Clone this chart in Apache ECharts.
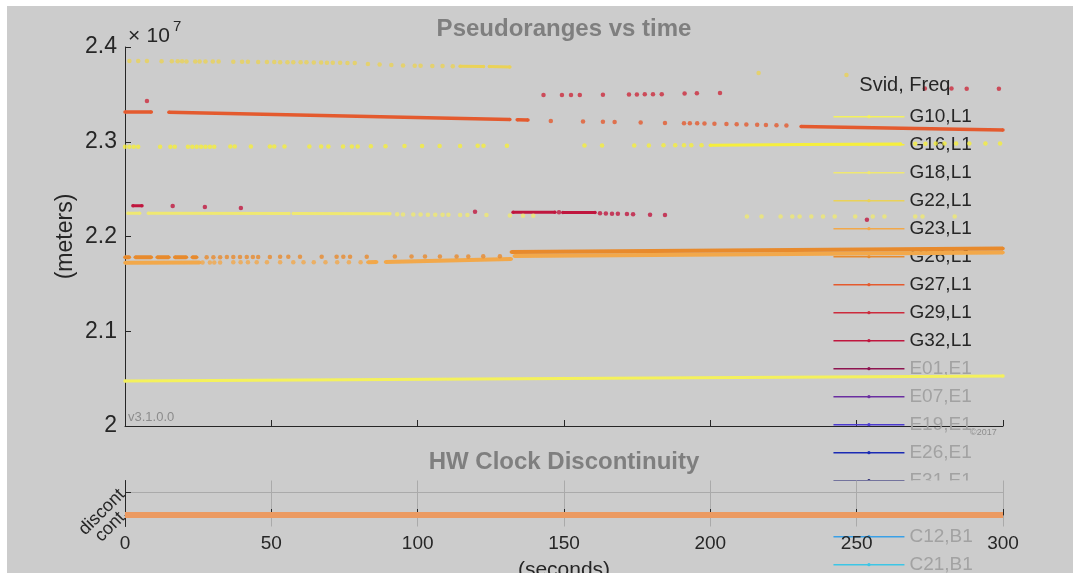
<!DOCTYPE html>
<html><head><meta charset="utf-8">
<script src="https://cdn.jsdelivr.net/npm/echarts@6/dist/echarts.min.js"></script>
<style>
html,body{margin:0;padding:0;background:#fff;width:1073px;height:575px;overflow:hidden}
#c{position:absolute;left:7px;top:6px;width:1066px;height:567px;}
</style></head>
<body><div id="c"></div>
<script>
// ---------------- data (time in seconds, pseudorange in meters) ----------------
const xTicks = [0, 50, 100, 150, 200, 250, 300];
const yTicksE7 = [2, 2.1, 2.2, 2.3, 2.4];
const legendNames = ['G10,L1','G16,L1','G18,L1','G22,L1','G23,L1','G26,L1','G27,L1','G29,L1','G32,L1',
                     'E01,E1','E07,E1','E19,E1','E26,E1','E31,E1','E33,E1','C12,B1','C21,B1'];
const inactiveNames = ['E01,E1','E07,E1','E19,E1','E26,E1','E31,E1','E33,E1','C12,B1','C21,B1'];

const g10LineT = [0, 150, 300];
const g10LineR = [20475000, 20501000, 20528000];

const g16LineT = [200, 232, 265];
const g16LineR = [22963000, 22970000, 22977000];
const g16DotT = [0, 1.5, 3, 4.5, 12, 15.5, 17, 21.5, 23, 24.5, 26, 27.5, 29, 30.5,
                 36, 37.5, 43, 49.5, 51, 54.5, 63, 67, 69.5, 74.5, 77.5, 79.5,
                 84, 89, 95.5, 101.5, 107.5, 114.5, 120.5, 122.5, 130.5,
                 157, 163, 174, 179, 184, 188, 191, 193.5, 197,
                 270, 273.5, 277, 280, 284, 288.5, 294, 299];
const g16DotR = [22948000, 22948000, 22948000, 22948000, 22948000, 22948000, 22948000, 22948000, 22948000, 22948000, 22948000, 22948000, 22948000, 22948000,
                 22950000, 22950000, 22950000, 22950000, 22950000, 22950000, 22950000, 22951000, 22951000, 22951000, 22951000, 22951000,
                 22952000, 22953000, 22955000, 22955000, 22956000, 22956000, 22957000, 22957000, 22957000,
                 22960000, 22960000, 22961000, 22961000, 22962000, 22962000, 22962000, 22962000, 22963000,
                 22980000, 22980000, 22981000, 22981000, 22981000, 22982000, 22982000, 22982000];

const g18LineT = [1, 5, null, 8, 56, null, 57.5, 90.5];
const g18LineR = [22246000, 22246000, null, 22245000, 22243000, null, 22243000, 22241000];
const g18DotT = [93, 95, 98.5, 101, 103.5, 106, 108.5, 110.5, 114.5, 117, 123.5, 131.5, 136, 139.5,
                 212.5, 217.5, 224, 228, 230.5, 234.5, 238.5, 242.5, 249.5, 255.5, 259.5, 270, 272.5, 283.5];
const g18DotR = [22234000, 22233000, 22232000, 22231000, 22230000, 22230000, 22229000, 22229000, 22228000, 22228000, 22227000, 22221000, 22220000, 22219000,
                 22211000, 22211000, 22211000, 22211000, 22211000, 22211000, 22211000, 22211000, 22210000, 22210000, 22210000, 22210000, 22210000, 22210000];

const g22LineT = [114.5, 122.5, null, 124.5, 131.5];
const g22LineR = [23797000, 23794000, null, 23793000, 23790000];
const g22DotT = [1.5, 4.5, 7.5, 12.5, 16, 18, 19.5, 21, 24, 25.5, 27.5, 30, 32, 37, 40, 42, 45.5, 48.5,
                 51, 53, 55.5, 57.5, 60, 62, 64.5, 67, 69, 71, 73.5, 76, 78.5,
                 83, 87, 91, 95, 99, 101, 105, 108.5, 112,
                 216.5, 246.5];
const g22DotR = [23852000, 23851000, 23851000, 23850000, 23849000, 23849000, 23849000, 23848000, 23847000, 23847000, 23847000, 23846000, 23846000, 23845000, 23844000, 23844000, 23843000, 23842000,
                 23841000, 23840000, 23840000, 23839000, 23838000, 23838000, 23837000, 23836000, 23835000, 23834000, 23833000, 23832000, 23830000,
                 23820000, 23815000, 23810000, 23805000, 23803000, 23802000, 23800000, 23799000, 23798000,
                 23726000, 23705000];

const g23LineT = [0, 25.5, null, 83, 86, null, 89, 132, null, 133, 300];
const g23LineR = [21724000, 21726000, null, 21729000, 21730000, null, 21731000, 21763000, null, 21794000, 21831000];
const g23DotT = [26.5, 29, 30.5, 32.5, 37, 39.5, 42, 45, 48.5, 53, 57.5, 61, 64.5, 68.5, 72.5, 76.5, 80.5];
const g23DotR = [21726000, 21726000, 21726000, 21726000, 21727000, 21727000, 21727000, 21727000, 21727000, 21728000, 21728000, 21728000, 21728000, 21729000, 21729000, 21729000, 21729000];

const g26LineT = [0, 1.5, null, 3.5, 9, null, 11, 15, null, 17, 21, null, 23, 24.5, null, 132, 300];
const g26LineR = [21780000, 21780000, null, 21780000, 21780000, null, 21781000, 21781000, null, 21781000, 21781000, null, 21782000, 21782000, null, 21836000, 21873000];
const g26DotT = [27.9, 30.2, 32.5, 34.8, 37, 39.3, 41.6, 43.7, 45.5, 49.5, 53, 55.8, 59.8, 67.2, 72.3, 74.6, 76.9, 82.6,
                 92.2, 97.9, 102.5, 107.6, 113.3, 117.3, 122.4, 128.1];
const g26DotR = [21782000, 21782000, 21782000, 21783000, 21783000, 21783000, 21783000, 21784000, 21784000, 21784000, 21785000, 21785000, 21785000, 21786000, 21786000, 21787000, 21787000, 21787000,
                 21788000, 21788000, 21789000, 21789000, 21790000, 21790000, 21791000, 21792000];

const g27LineT = [0, 9, null, 15, 131.5, null, 134, 137.7, null, 231, 300];
const g27LineR = [23315000, 23313000, null, 23311000, 23234000, null, 23232000, 23229000, null, 23160000, 23125000];
const g27DotT = [145.5, 156.5, 163.3, 167.3, 176.2, 184.5, 191, 193, 195.5, 198, 201.4, 205.5, 209, 212.3, 216, 219, 222.6, 226];
const g27DotR = [23219000, 23214000, 23212000, 23208000, 23203000, 23198000, 23195000, 23195000, 23194000, 23193000, 23190000, 23187000, 23184000, 23182000, 23179000, 23177000, 23174000, 23171000];

const g29DotT = [7.5, 143, 149.3, 152.4, 155.4, 163.3, 172.2, 174.9, 177.6, 180.4, 183.4, 191.2, 195.4, 203.3, 273.3, 282.4, 287.6, 298.6];
const g29DotR = [23430000, 23493000, 23493000, 23494000, 23494000, 23496000, 23500000, 23500000, 23501000, 23501000, 23502000, 23510000, 23512000, 23515000, 23562000, 23562000, 23560000, 23560000];

const g32LineT = [2.7, 5.8, null, 132.6, 146.9, null, 149.6, 160.6];
const g32LineR = [22324000, 22324000, null, 22256000, 22255000, null, 22254000, 22252000];
const g32DotT = [16.3, 27.3, 39.6, 119.6, 148.3, 162.3, 164.3, 166.4, 168.4, 171.5, 173.6, 179.4, 184.5, 253.5];
const g32DotR = [22322000, 22312000, 22301000, 22262000, 22255000, 22245000, 22243000, 22241000, 22240000, 22238000, 22236000, 22230000, 22227000, 22177000];

const hwT = [0, 300];
const hwFlag = [0, 0];
const hwTickValues = [0, 1];
const hwTickLabels = ['cont', 'discont'];

// ---------------- styling ----------------
const FONT = '"Liberation Sans", Arial, Helvetica, sans-serif';
const BG = '#cccccc';
const AX = '#262626';
const satColors = {
  'G10,L1':'#f4f15c','G16,L1':'#f5ee3c','G18,L1':'#efe872','G22,L1':'#ead257','G23,L1':'#f2a84a',
  'G26,L1':'#e88a2c','G27,L1':'#e45a2e','G29,L1':'#cc2a3c','G32,L1':'#c0163e',
  'E01,E1':'#8e1450','E07,E1':'#6a2ea0','E19,E1':'#4b3ad0','E26,E1':'#1a2ab4','E31,E1':'#1a1a6e',
  'E33,E1':'#3060c0','C12,B1':'#3aa0e6','C21,B1':'#3cc6e6'
};
const satData = {
  'G10,L1': [g10LineT, g10LineR, [], []],
  'G16,L1': [g16LineT, g16LineR, g16DotT, g16DotR],
  'G18,L1': [g18LineT, g18LineR, g18DotT, g18DotR],
  'G22,L1': [g22LineT, g22LineR, g22DotT, g22DotR],
  'G23,L1': [g23LineT, g23LineR, g23DotT, g23DotR],
  'G26,L1': [g26LineT, g26LineR, g26DotT, g26DotR],
  'G27,L1': [g27LineT, g27LineR, g27DotT, g27DotR],
  'G29,L1': [[], [], g29DotT, g29DotR],
  'G32,L1': [g32LineT, g32LineR, g32DotT, g32DotR]
};
const lineWidths = {'G23,L1':4, 'G26,L1':4, 'G27,L1':3.5};

function pairs(t, r) {
  return t.map((x, i) => x === null ? ['-', '-'] : [x, r[i]]);
}

const series = [];
legendNames.forEach(name => {
  const c = satColors[name];
  const d = satData[name] || [[], [], [], []];
  series.push({
    type: 'line', name, xAxisIndex: 0, yAxisIndex: 0,
    data: pairs(d[0], d[1]), symbol: 'circle', symbolSize: 3.5, showAllSymbol: true,
    connectNulls: false, lineStyle: {width: lineWidths[name] || 3, color: c},
    itemStyle: {color: c}, z: 2, silent: true, animation: false
  });
  if (d[2].length) {
    series.push({
      type: 'scatter', name, xAxisIndex: 0, yAxisIndex: 0,
      data: pairs(d[2], d[3]), symbol: 'circle', symbolSize: 4.5,
      itemStyle: {color: c}, z: 2, silent: true, animation: false
    });
  }
});
series.push({
  type: 'line', name: 'hw', xAxisIndex: 1, yAxisIndex: 1,
  data: pairs(hwT, hwFlag), symbol: 'none', lineStyle: {width: 6, color: '#eb9a62'},
  z: 6, silent: true, animation: false,
  markLine: {silent: true, symbol: 'none', label: {show: false}, animation: false,
    lineStyle: {color: '#aaaaaa', width: 1, type: 'solid'}, data: [{yAxis: hwTickValues[1]}]}
});

function hwLabelAxis(values, showLine) {
  return {gridIndex: 1, type: 'value', min: -0.5, max: 1.5, z: 5, position: 'left', offset: 0,
    axisLine: {show: showLine, lineStyle: {color: AX, width: 1}},
    axisTick: {show: showLine, inside: true, length: 6, customValues: hwTickValues, lineStyle: {color: AX}},
    axisLabel: {customValues: values, rotate: 45, fontSize: 18, color: AX, margin: 3, fontFamily: FONT,
      hideOverlap: false,
      formatter: v => hwTickLabels[hwTickValues.indexOf(Math.round(v))] || ''},
    splitLine: {show: false}};
}

const option = {
  backgroundColor: BG,
  animation: false,
  textStyle: {fontFamily: FONT},
  grid: [
    {left: 118, top: 41, width: 878, height: 379, show: false, containLabel: false, outerBoundsMode: 'none'},
    {left: 118, top: 474.5, width: 878, height: 46, show: true, backgroundColor: BG, borderWidth: 0, z: 3, containLabel: false, outerBoundsMode: 'none'}
  ],
  xAxis: [
    {gridIndex: 0, type: 'value', min: xTicks[0], max: xTicks[xTicks.length-1], interval: 50,
     axisLine: {show: true, lineStyle: {color: AX, width: 1}},
     axisTick: {show: true, inside: true, length: 6, lineStyle: {color: AX}},
     axisLabel: {show: false}, splitLine: {show: false}},
    {gridIndex: 1, type: 'value', min: xTicks[0], max: xTicks[xTicks.length-1], interval: 50, z: 5,
     axisLine: {show: true, lineStyle: {color: AX, width: 1}},
     axisTick: {show: true, inside: true, length: 6, lineStyle: {color: AX}},
     axisLabel: {fontSize: 19, color: AX, margin: 8, fontFamily: FONT, hideOverlap: false},
     splitLine: {show: true, lineStyle: {color: '#aaaaaa', width: 1}},
     name: '(seconds)', nameLocation: 'middle', nameGap: 33, nameMoveOverlap: false,
     nameTextStyle: {fontSize: 21, color: AX, fontFamily: FONT}}
  ],
  yAxis: [
    {gridIndex: 0, type: 'value', min: yTicksE7[0]*1e7, max: yTicksE7[yTicksE7.length-1]*1e7, interval: 1e6,
     axisLine: {show: true, lineStyle: {color: AX, width: 1}},
     axisTick: {show: true, inside: true, length: 6, lineStyle: {color: AX}},
     axisLabel: {fontSize: 23, color: AX, margin: 8, fontFamily: FONT,
       formatter: v => String(Math.round(v / 1e5) / 100)},
     splitLine: {show: false},
     name: '(meters)', nameLocation: 'middle', nameGap: 48, nameMoveOverlap: false,
     nameTextStyle: {fontSize: 23, color: AX, fontFamily: FONT}},
    hwLabelAxis([hwTickValues[0]], true),
    hwLabelAxis([hwTickValues[1]], false)
  ],
  legend: {
    orient: 'vertical', left: 825.7, top: 100.7, height: 600, padding: 0,
    itemWidth: 71, itemHeight: 4, itemGap: 8, selectedMode: false, z: 1,
    lineStyle: {width: 1.5},
    textStyle: {fontSize: 19, lineHeight: 20, color: AX, fontFamily: FONT},
    data: legendNames.map(n => inactiveNames.indexOf(n) >= 0 ? {name: n, textStyle: {color: '#a2a2a2'}} : {name: n})
  },
  graphic: [
    {type: 'text', x: 557, y: 23, z: 10, silent: true,
     style: {text: 'Pseudoranges vs time', fontSize: 24, fontWeight: 'bold', fill: '#7f7f7f', fontFamily: FONT,
             align: 'center', verticalAlign: 'middle', textAlign: 'center', textVerticalAlign: 'middle'}},
    {type: 'text', x: 557, y: 456, z: 10, silent: true,
     style: {text: 'HW Clock Discontinuity', fontSize: 24, fontWeight: 'bold', fill: '#7f7f7f', fontFamily: FONT,
             align: 'center', verticalAlign: 'middle', textAlign: 'center', textVerticalAlign: 'middle'}},
    {type: 'text', x: 121, y: 30, z: 10, silent: true,
     style: {text: '×', fontSize: 21, fill: AX, fontFamily: FONT, verticalAlign: 'middle', textVerticalAlign: 'middle'}},
    {type: 'text', x: 139.5, y: 30, z: 10, silent: true,
     style: {text: '10', fontSize: 21, fill: AX, fontFamily: FONT, verticalAlign: 'middle', textVerticalAlign: 'middle'}},
    {type: 'text', x: 166, y: 21, z: 10, silent: true,
     style: {text: '7', fontSize: 15, fill: AX, fontFamily: FONT, verticalAlign: 'middle', textVerticalAlign: 'middle'}},
    {type: 'text', x: 121, y: 411.5, z: 10, silent: true,
     style: {text: 'v3.1.0.0', fontSize: 13, fill: '#8c8c8c', fontFamily: FONT, verticalAlign: 'middle', textVerticalAlign: 'middle'}},
    {type: 'text', x: 963, y: 426.5, z: 10, silent: true,
     style: {text: '©2017', fontSize: 9, fill: '#8c8c8c', fontFamily: FONT, verticalAlign: 'middle', textVerticalAlign: 'middle'}},
    {type: 'text', x: 852.3, y: 79, z: 10, silent: true,
     style: {text: 'Svid, Freq', fontSize: 20, fill: AX, fontFamily: FONT, verticalAlign: 'middle', textVerticalAlign: 'middle'}}
  ],
  series
};

const chart = echarts.init(document.getElementById('c'), null, {renderer: 'canvas'});
chart.setOption(option);
</script>
</body></html>
